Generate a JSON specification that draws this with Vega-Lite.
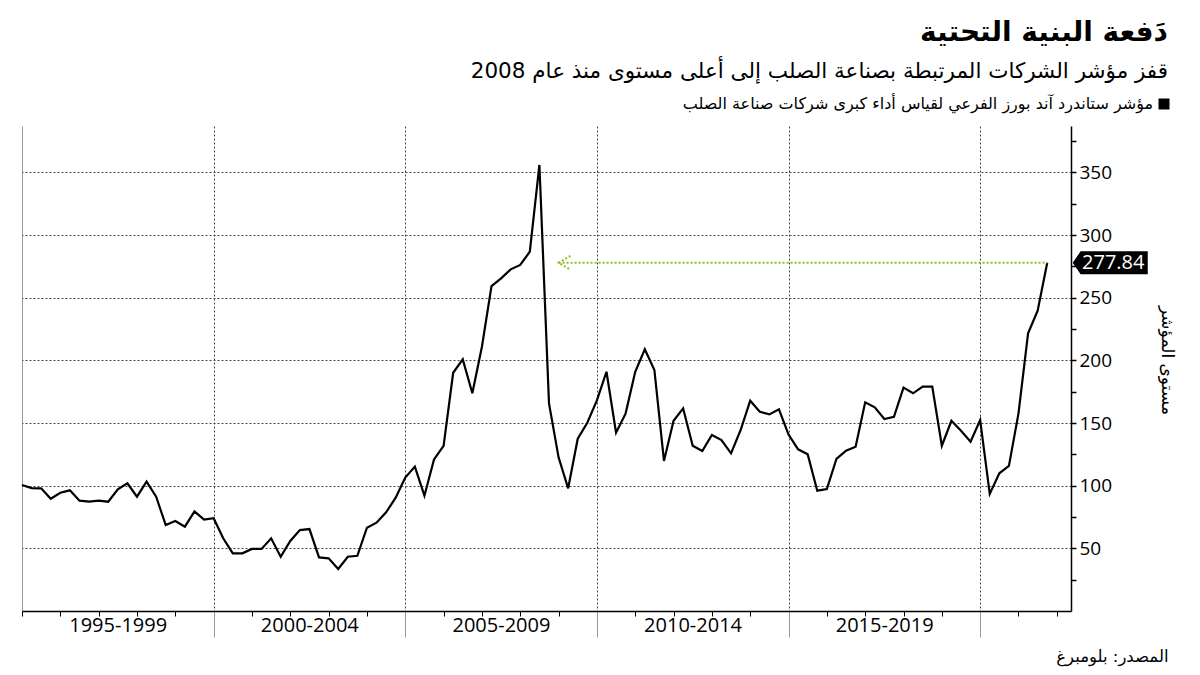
{
  "$schema": "https://vega.github.io/schema/vega-lite/v6.json",
  "width": 1049,
  "height": 485,
  "autosize": {"type": "none"},
  "padding": {"left": 22, "top": 126, "right": 129, "bottom": 64},
  "background": "white",
  "config": {"view": {"stroke": null}, "font": "DejaVu Sans"},
  "title": {
    "text": "دَفعة البنية التحتية",
    "subtitle": "قفز مؤشر الشركات المرتبطة بصناعة الصلب إلى أعلى مستوى منذ عام 2008",
    "anchor": "end",
    "frame": "group",
    "dx": 97,
    "font": "DejaVu Sans",
    "fontSize": 28,
    "fontWeight": "bold",
    "color": "#000000",
    "subtitleFont": "DejaVu Sans",
    "subtitleFontSize": 21.5,
    "subtitleColor": "#000000",
    "subtitlePadding": 14,
    "offset": 14
  },
  "datasets": {
    "steel": [
      {"t": 1995, "v": 100.5}, {"t": 1995.25, "v": 98.1}, {"t": 1995.5, "v": 97.9}, {"t": 1995.75, "v": 89.6},
      {"t": 1996, "v": 94.4}, {"t": 1996.25, "v": 96.3}, {"t": 1996.5, "v": 88.0}, {"t": 1996.75, "v": 87.2},
      {"t": 1997, "v": 88.0}, {"t": 1997.25, "v": 87.2}, {"t": 1997.5, "v": 97.1}, {"t": 1997.75, "v": 101.9},
      {"t": 1998, "v": 91.2}, {"t": 1998.25, "v": 103.2}, {"t": 1998.5, "v": 91.2}, {"t": 1998.75, "v": 68.6},
      {"t": 1999, "v": 71.8}, {"t": 1999.25, "v": 67.3}, {"t": 1999.5, "v": 79.5}, {"t": 1999.75, "v": 72.9},
      {"t": 2000, "v": 74.0}, {"t": 2000.25, "v": 58.0}, {"t": 2000.5, "v": 46.0}, {"t": 2000.75, "v": 46.0},
      {"t": 2001, "v": 49.5}, {"t": 2001.25, "v": 49.5}, {"t": 2001.5, "v": 58.0}, {"t": 2001.75, "v": 43.3},
      {"t": 2002, "v": 55.9}, {"t": 2002.25, "v": 64.6}, {"t": 2002.5, "v": 65.4}, {"t": 2002.75, "v": 42.8},
      {"t": 2003, "v": 42.0}, {"t": 2003.25, "v": 33.5}, {"t": 2003.5, "v": 43.3}, {"t": 2003.75, "v": 44.1},
      {"t": 2004, "v": 66.5}, {"t": 2004.25, "v": 70.5}, {"t": 2004.5, "v": 78.7}, {"t": 2004.75, "v": 90.4},
      {"t": 2005, "v": 106.5}, {"t": 2005.25, "v": 115.2}, {"t": 2005.5, "v": 92.0}, {"t": 2005.75, "v": 121.0},
      {"t": 2006, "v": 131.7}, {"t": 2006.25, "v": 190.1}, {"t": 2006.5, "v": 200.8}, {"t": 2006.75, "v": 173.7},
      {"t": 2007, "v": 210.9}, {"t": 2007.25, "v": 259.3}, {"t": 2007.5, "v": 265.4}, {"t": 2007.75, "v": 272.6},
      {"t": 2008, "v": 276.1}, {"t": 2008.25, "v": 286.7}, {"t": 2008.5, "v": 355.9}, {"t": 2008.75, "v": 165.7},
      {"t": 2009, "v": 122.6}, {"t": 2009.25, "v": 97.9}, {"t": 2009.5, "v": 137.5}, {"t": 2009.75, "v": 150.2},
      {"t": 2010, "v": 168.0}, {"t": 2010.25, "v": 190.9}, {"t": 2010.5, "v": 142.3}, {"t": 2010.75, "v": 157.7},
      {"t": 2011, "v": 190.9}, {"t": 2011.25, "v": 208.8}, {"t": 2011.5, "v": 192.3}, {"t": 2011.75, "v": 119.7},
      {"t": 2012, "v": 151.8}, {"t": 2012.25, "v": 161.7}, {"t": 2012.5, "v": 131.9}, {"t": 2012.75, "v": 127.7},
      {"t": 2013, "v": 140.4}, {"t": 2013.25, "v": 136.4}, {"t": 2013.5, "v": 125.8}, {"t": 2013.75, "v": 144.4},
      {"t": 2014, "v": 167.8}, {"t": 2014.25, "v": 159.0}, {"t": 2014.5, "v": 156.9}, {"t": 2014.75, "v": 160.9},
      {"t": 2015, "v": 140.8}, {"t": 2015.25, "v": 129.0}, {"t": 2015.5, "v": 125.0}, {"t": 2015.75, "v": 96.0},
      {"t": 2016, "v": 97.3}, {"t": 2016.25, "v": 121.3}, {"t": 2016.5, "v": 127.9}, {"t": 2016.75, "v": 131.1},
      {"t": 2017, "v": 166.5}, {"t": 2017.25, "v": 162.5}, {"t": 2017.5, "v": 153.2}, {"t": 2017.75, "v": 155.0},
      {"t": 2018, "v": 178.2}, {"t": 2018.25, "v": 173.7}, {"t": 2018.5, "v": 179.0}, {"t": 2018.75, "v": 179.0},
      {"t": 2019, "v": 131.9}, {"t": 2019.25, "v": 151.8}, {"t": 2019.5, "v": 143.9}, {"t": 2019.75, "v": 135.1},
      {"t": 2020, "v": 152.4}, {"t": 2020.25, "v": 93.4}, {"t": 2020.5, "v": 109.9}, {"t": 2020.75, "v": 115.7},
      {"t": 2021, "v": 157.7}, {"t": 2021.25, "v": 221.6}, {"t": 2021.5, "v": 239.6}, {"t": 2021.75, "v": 277.84}
    ],
    "arrow": [{"t": 2009.0, "t2": 2021.75, "v": 277.84}],
    "last": [{"t": 2021.75, "v": 277.84, "label": "277.84"}]
  },
  "layer": [
    {
      "data": {"name": "steel"},
      "mark": {"type": "line", "stroke": "#000000", "strokeWidth": 2.2, "strokeJoin": "miter"},
      "encoding": {
        "x": {
          "field": "t",
          "type": "quantitative",
          "scale": {"domain": [1995, 2022.37], "nice": false, "zero": false},
          "axis": {
            "orient": "bottom",
            "tickCount": 200,
            "values": [1995, 1996, 1997, 1998, 1999, 2000, 2001, 2002, 2003, 2004, 2005, 2006, 2007, 2008, 2009, 2010, 2011, 2012, 2013, 2014, 2015, 2016, 2017, 2018, 2019, 2020, 2021, 2022],
            "labelExpr": "(datum.value % 5 == 2 && datum.value < 2020) ? (datum.value - 2) + '-' + (datum.value + 2) : ''",
            "labelOffset": 19,
            "labelOverlap": false,
            "labelBound": false,
            "labelFlush": false,
            "labelFont": "Open Sans",
            "labelFontSize": 20,
            "labelColor": "#000000",
            "labelPadding": -1,
            "tickSize": {"condition": {"test": "datum.value % 5 == 0 && datum.value > 1995", "value": 26}, "value": 5},
            "tickColor": {"condition": {"test": "datum.value % 5 == 0 && datum.value > 1995", "value": "#999999"}, "value": "#000000"},
            "tickWidth": 1,
            "domainColor": "#000000",
            "domainWidth": 1.5,
            "grid": true,
            "gridOpacity": {"condition": {"test": "datum.value % 5 == 0", "value": 1}, "value": 0},
            "gridDash": {"condition": {"test": "datum.value == 1995", "value": []}, "value": [2, 2]},
            "gridColor": {"condition": {"test": "datum.value == 1995", "value": "#999999"}, "value": "#444444"},
            "gridWidth": 1,
            "title": "المصدر: بلومبرغ",
            "titleFont": "DejaVu Sans",
            "titleFontSize": 16.5,
            "titleFontWeight": "normal",
            "titleColor": "#000000",
            "titleAnchor": "end",
            "titleAlign": "right",
            "titleBaseline": "alphabetic",
            "titleX": 1146,
            "titleY": 50
          }
        },
        "y": {
          "field": "v",
          "type": "quantitative",
          "scale": {"domain": [0, 387], "nice": false, "zero": true},
          "axis": {
            "orient": "right",
            "tickCount": 200,
            "values": [25, 50, 75, 100, 125, 150, 175, 200, 225, 250, 275, 300, 325, 350, 375],
            "labelExpr": "datum.value % 50 == 0 ? datum.label : ''",
            "labelOverlap": false,
            "labelFont": "Open Sans",
            "labelFontSize": 19,
            "labelColor": "#000000",
            "labelPadding": 3,
            "tickSize": 5,
            "tickWidth": 1.5,
            "tickColor": "#000000",
            "domainColor": "#000000",
            "domainWidth": 1.5,
            "grid": true,
            "gridOpacity": {"condition": {"test": "datum.value % 50 == 0", "value": 1}, "value": 0},
            "gridDash": [2, 2],
            "gridColor": "#444444",
            "gridWidth": 1,
            "title": "مستوى المؤشر",
            "titleFont": "DejaVu Sans",
            "titleFontSize": 17,
            "titleFontWeight": "normal",
            "titleColor": "#000000",
            "titleAngle": 90,
            "titleAlign": "center",
            "titleBaseline": "middle",
            "titleX": 95,
            "titleY": 234
          }
        }
      }
    },
    {
      "data": {"name": "arrow"},
      "mark": {"type": "rule", "stroke": "#8DC21F", "strokeWidth": 2, "strokeDash": [2, 2]},
      "encoding": {
        "x": {"field": "t", "type": "quantitative"},
        "x2": {"field": "t2"},
        "y": {"field": "v", "type": "quantitative"}
      }
    },
    {
      "data": {"name": "arrow"},
      "mark": {"type": "point", "shape": "M1.7,-1L0,0L1.7,1", "size": 196, "filled": false, "stroke": "#8DC21F", "strokeWidth": 2, "strokeDash": [2, 2], "opacity": 1},
      "encoding": {
        "x": {"field": "t", "type": "quantitative"},
        "y": {"field": "v", "type": "quantitative"}
      }
    },
    {
      "data": {"name": "last"},
      "mark": {"type": "point", "shape": "M-1,0L-0.79,-0.307L1,-0.307L1,0.307L-0.79,0.307Z", "size": 5625, "filled": true, "opacity": 1, "strokeWidth": 0, "xOffset": 63},
      "encoding": {
        "x": {"field": "t", "type": "quantitative"},
        "y": {"field": "v", "type": "quantitative"},
        "color": {
          "datum": "مؤشر ستاندرد آند بورز الفرعي لقياس أداء كبرى شركات صناعة الصلب",
          "scale": {"range": ["#000000"]},
          "legend": {
            "orient": "none",
            "legendX": 1134,
            "legendY": -30,
            "title": null,
            "padding": 0,
            "symbolType": "square",
            "symbolSize": 121,
            "symbolStrokeWidth": 0,
            "labelFont": "DejaVu Sans",
            "labelFontSize": 16,
            "labelColor": "#000000",
            "labelLimit": 0,
            "labelAlign": "right",
            "labelOffset": -19
          }
        }
      }
    },
    {
      "data": {"name": "last"},
      "mark": {"type": "text", "fill": "#FFFFFF", "font": "Open Sans", "fontSize": 20, "align": "center", "baseline": "middle", "xOffset": 66},
      "encoding": {
        "x": {"field": "t", "type": "quantitative"},
        "y": {"field": "v", "type": "quantitative"},
        "text": {"field": "label"}
      }
    }
  ]
}
